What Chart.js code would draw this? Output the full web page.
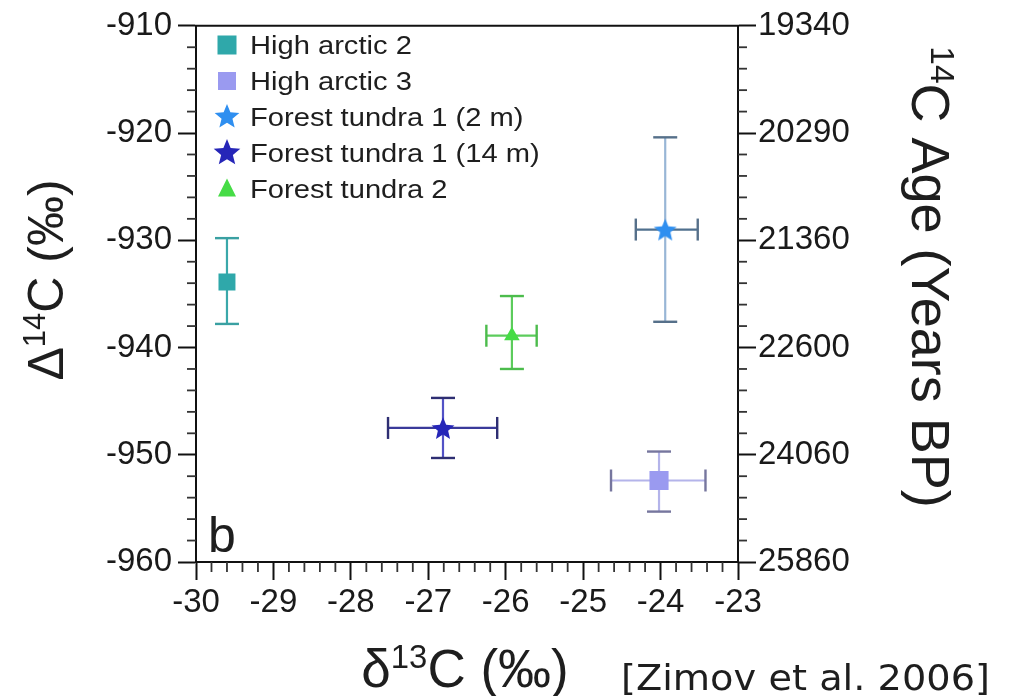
<!DOCTYPE html>
<html><head><meta charset="utf-8">
<script src="https://cdn.jsdelivr.net/npm/chart.js@4"></script>
<style>html,body{margin:0;padding:0;background:#fff;} canvas{display:block;}</style>
</head><body>
<canvas id="c" width="1015" height="696"></canvas>
<script>
// ---- data ----
const seriesNames = ['High arctic 2', 'High arctic 3', 'Forest tundra 1 (2 m)', 'Forest tundra 1 (14 m)', 'Forest tundra 2'];
const d13C      = [-29.60, -24.02, -23.94, -26.81, -25.92];
const d13CLow   = [null,   -24.64, -24.32, -27.52, -26.25];
const d13CHigh  = [null,   -23.42, -23.52, -26.11, -25.60];
const D14C      = [-933.9, -952.4, -929.0, -947.5, -938.9];
const D14CLow   = [-937.8, -955.3, -937.6, -950.3, -942.0];
const D14CHigh  = [-929.8, -949.7, -920.4, -944.7, -935.2];
const xTicks = [-30, -29, -28, -27, -26, -25, -24, -23];
const yTicks = [-960, -950, -940, -930, -920, -910];
const ageTickLabels = ['25860', '24060', '22600', '21360', '20290', '19340'];

// ---- styles ----
const FONT = "'Liberation Sans', Arial, Helvetica, sans-serif";
const markerColor = ['#2fa8aa', '#9a9af0', '#2f8ff0', '#2626b8', '#46dc46'];
const barVColor   = ['#3aa8aa', '#b4b4ea', '#98b6d6', '#5252c6', '#5ccc5c'];
const barHColor   = ['#3aa8aa', '#b4b4ea', '#50708e', '#3a3a9a', '#5ccc5c'];
const capColor    = ['#3aa0a2', '#76769e', '#56708a', '#2e2e72', '#4cbc4c'];
const markerKind  = ['square', 'square', 'star', 'star', 'triangle'];
const markerSize  = [12, 13.5, 12, 12, 9];

function starPath(g, cx, cy, R, r) {
  g.beginPath();
  for (let k = 0; k < 10; k++) {
    const a = -Math.PI / 2 + k * Math.PI / 5;
    const rr = (k % 2) ? r : R;
    g.lineTo(cx + rr * Math.cos(a), cy + rr * Math.sin(a));
  }
  g.closePath();
}
function starCanvas(color, R) {
  const c = document.createElement('canvas');
  const s = Math.ceil(R * 2 + 4);
  c.width = s; c.height = s;
  const g = c.getContext('2d');
  starPath(g, s / 2, s / 2 + R * 0.1, R, R * 0.45);
  g.fillStyle = color; g.fill();
  return c;
}
function pointStyleFor(i) {
  if (markerKind[i] === 'square') return 'rect';
  if (markerKind[i] === 'triangle') return 'triangle';
  return starCanvas(markerColor[i], markerSize[i]);
}

const datasets = seriesNames.map((name, i) => ({
  label: name,
  data: [{ x: d13C[i], y: D14C[i] }],
  pointStyle: pointStyleFor(i),
  pointRadius: markerSize[i],
  pointBackgroundColor: markerColor[i],
  pointBorderWidth: 0,
  pointBorderColor: markerColor[i],
  showLine: false
}));

function line(ctx, x1, y1, x2, y2, color, w) {
  ctx.beginPath(); ctx.moveTo(x1, y1); ctx.lineTo(x2, y2);
  ctx.strokeStyle = color; ctx.lineWidth = w; ctx.stroke();
}
function drawRich(ctx, parts, size, family, align, sx) {
  // draws at origin, baseline y=0
  sx = sx || 1;
  let total = 0;
  const widths = parts.map(p => {
    ctx.font = (p.sup ? size * 0.62 : size) + 'px ' + family;
    const w = ctx.measureText(p.t).width * sx;
    total += w; return w;
  });
  let x = align === 'center' ? -total / 2 : (align === 'right' ? -total : 0);
  parts.forEach((p, k) => {
    ctx.font = (p.sup ? size * 0.62 : size) + 'px ' + family;
    ctx.save();
    ctx.translate(x, p.sup ? -size * 0.36 : 0);
    ctx.scale(sx, 1);
    ctx.fillText(p.t, 0, 0);
    ctx.restore();
    x += widths[k];
  });
}
function drawMarker(ctx, i, x, y, s) {
  ctx.fillStyle = markerColor[i];
  if (markerKind[i] === 'square') {
    ctx.fillRect(x - s / 2, y - s / 2, s, s);
  } else if (markerKind[i] === 'triangle') {
    ctx.beginPath();
    ctx.moveTo(x, y - s * 0.58); ctx.lineTo(x + s / 2, y + s * 0.42); ctx.lineTo(x - s / 2, y + s * 0.42);
    ctx.closePath(); ctx.fill();
  } else {
    starPath(ctx, x, y, s / 2, s * 0.22); ctx.fill();
  }
}

const decor = {
  id: 'decor',
  beforeDatasetsDraw(chart) {
    const ctx = chart.ctx, xs = chart.scales.x, ys = chart.scales.y;
    ctx.save();
    ctx.lineCap = 'butt';
    for (let i = 0; i < seriesNames.length; i++) {
      const px = xs.getPixelForValue(d13C[i]);
      const py = ys.getPixelForValue(D14C[i]);
      const yl = ys.getPixelForValue(D14CLow[i]);
      const yh = ys.getPixelForValue(D14CHigh[i]);
      line(ctx, px, yl, px, yh, barVColor[i], 2.2);
      line(ctx, px - 12, yl, px + 12, yl, capColor[i], 2.4);
      line(ctx, px - 12, yh, px + 12, yh, capColor[i], 2.4);
      if (d13CLow[i] !== null) {
        const xl = xs.getPixelForValue(d13CLow[i]);
        const xh = xs.getPixelForValue(d13CHigh[i]);
        line(ctx, xl, py, xh, py, barHColor[i], 2.2);
        line(ctx, xl, py - 11, xl, py + 11, capColor[i], 2.4);
        line(ctx, xh, py - 11, xh, py + 11, capColor[i], 2.4);
      }
    }
    ctx.restore();
  },
  afterDraw(chart) {
    const ctx = chart.ctx, xs = chart.scales.x, ys = chart.scales.y, a = chart.chartArea;
    ctx.save();
    // minor ticks
    const xStepMinor = (xTicks[1] - xTicks[0]) / 5;
    const nx = (xTicks[xTicks.length - 1] - xTicks[0]) / xStepMinor;
    for (let k = 0; k <= Math.round(nx); k++) {
      if (k % 5 === 0) continue;
      const p = xs.getPixelForValue(xTicks[0] + k * xStepMinor);
      line(ctx, p, a.bottom, p, a.bottom + 10, '#333', 1.8);
    }
    const yStepMinor = (yTicks[1] - yTicks[0]) / 5;
    const ny = (yTicks[yTicks.length - 1] - yTicks[0]) / yStepMinor;
    for (let k = 0; k <= Math.round(ny); k++) {
      if (k % 5 === 0) continue;
      const p = ys.getPixelForValue(yTicks[0] + k * yStepMinor);
      line(ctx, a.left - 9, p, a.left, p, '#333', 1.8);
      line(ctx, a.right, p, a.right + 9, p, '#333', 1.8);
    }
    // top frame
    line(ctx, a.left - 1, a.top, a.right + 1, a.top, '#111', 2);

    // legend
    ctx.fillStyle = '#1e1e1e';
    ctx.textBaseline = 'alphabetic';
    const legY = [44, 80, 116, 152, 188];
    const legS = [19, 18, 26, 28, 18];
    for (let i = 0; i < seriesNames.length; i++) {
      drawMarker(ctx, i, 227, legY[i] + 1, legS[i]);
      ctx.fillStyle = '#1e1e1e';
      ctx.save(); ctx.translate(250, legY[i] + 9.5);
      drawRich(ctx, [{ t: seriesNames[i] }], 26, FONT, 'left', 1.12);
      ctx.restore();
    }

    // panel letter
    ctx.fillStyle = '#1e1e1e';
    ctx.save(); ctx.translate(208, 552);
    drawRich(ctx, [{ t: 'b' }], 50, FONT, 'left', 1.0);
    ctx.restore();

    // left axis title
    ctx.save(); ctx.translate(63, 280); ctx.rotate(-Math.PI / 2);
    drawRich(ctx, [{ t: '\u0394' }, { t: '14', sup: true }, { t: 'C (\u2030)' }], 50, FONT, 'center', 1);
    ctx.restore();

    // right axis title
    ctx.save(); ctx.translate(912, 277); ctx.rotate(Math.PI / 2);
    drawRich(ctx, [{ t: '14', sup: true }, { t: 'C Age (Years BP)' }], 54, FONT, 'center', 1);
    ctx.restore();

    // bottom axis title
    ctx.save(); ctx.translate(465, 687);
    drawRich(ctx, [{ t: '\u03b4' }, { t: '13', sup: true }, { t: 'C (\u2030)' }], 53, FONT, 'center', 1);
    ctx.restore();

    // citation
    ctx.save();
    ctx.font = "35px 'DejaVu Sans', sans-serif";
    const cite = '[Zimov et al. 2006]';
    const cw = ctx.measureText(cite).width;
    ctx.translate(621, 690); ctx.scale(369 / cw, 1);
    ctx.fillText(cite, 0, 0);
    ctx.restore();
    ctx.restore();
  }
};

const tickFont = { family: FONT, size: 33 };
new Chart(document.getElementById('c'), {
  type: 'scatter',
  data: { datasets },
  options: {
    responsive: false,
    animation: false,
    devicePixelRatio: 1,
    layout: { padding: { top: 21, left: 0, right: 0, bottom: 0 } },
    plugins: { legend: { display: false }, tooltip: { enabled: false } },
    scales: {
      x: {
        type: 'linear', position: 'bottom', min: xTicks[0], max: xTicks[xTicks.length - 1],
        afterBuildTicks: s => { s.ticks = xTicks.map(v => ({ value: v })); },
        afterFit: s => { s.height = 696 - 562; },
        ticks: { font: tickFont, color: '#1a1a1a', padding: 3, maxRotation: 0, autoSkip: false, callback: v => String(v) },
        grid: { drawOnChartArea: false, tickLength: 18, tickWidth: 2, tickColor: '#111' },
        border: { color: '#111', width: 2 }
      },
      y: {
        type: 'linear', position: 'left', min: yTicks[0], max: yTicks[yTicks.length - 1],
        afterBuildTicks: s => { s.ticks = yTicks.map(v => ({ value: v })); },
        afterFit: s => { s.width = 196; },
        ticks: { font: tickFont, color: '#1a1a1a', padding: 6, autoSkip: false, callback: v => String(v) },
        grid: { drawOnChartArea: false, tickLength: 18, tickWidth: 2, tickColor: '#111' },
        border: { color: '#111', width: 2 }
      },
      y2: {
        type: 'linear', position: 'right', min: yTicks[0], max: yTicks[yTicks.length - 1],
        afterBuildTicks: s => { s.ticks = yTicks.map(v => ({ value: v })); },
        afterFit: s => { s.width = 1015 - 738; },
        ticks: { font: tickFont, color: '#1a1a1a', padding: 2, autoSkip: false,
          callback: (v) => ageTickLabels[yTicks.indexOf(v)] },
        grid: { drawOnChartArea: false, tickLength: 18, tickWidth: 2, tickColor: '#111' },
        border: { color: '#111', width: 2 }
      }
    }
  },
  plugins: [decor]
});
</script>
</body></html>
